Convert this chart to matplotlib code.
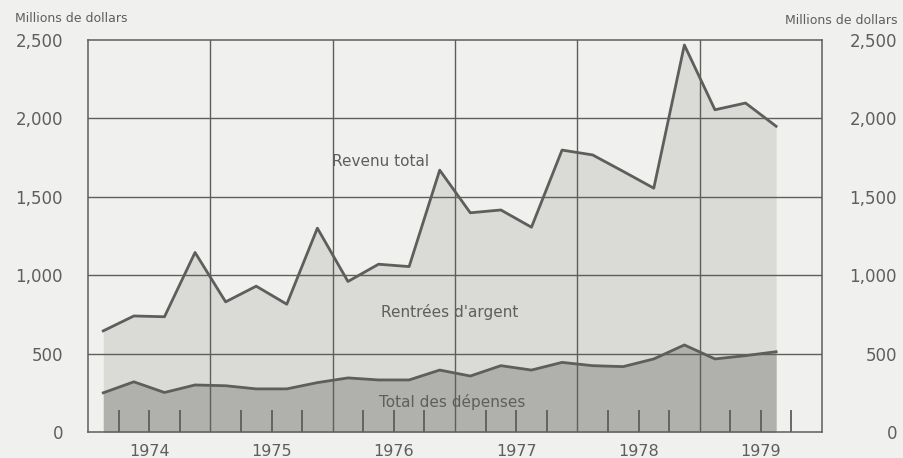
import matplotlib.pyplot as plt
from matplotlib.ticker import FixedLocator

# quarterly figures, 1974 Q1 .. 1979 Q3 (millions of dollars)
years = [1974, 1975, 1976, 1977, 1978, 1979]
revenu_total = [645, 740, 735, 1145, 830, 930, 815, 1300, 960, 1070, 1055, 1670,
                1398, 1416, 1306, 1798, 1767, 1662, 1555, 2468, 2055, 2098, 1950]
total_depenses = [250, 320, 252, 300, 295, 275, 275, 315, 345, 332, 332, 395,
                  357, 423, 395, 444, 423, 417, 466, 555, 466, 487, 512]
y_ticks = [0, 500, 1000, 1500, 2000, 2500]
y_labels = ['0', '500', '1,000', '1,500', '2,000', '2,500']

bg = '#f0f0ee'
light = '#dadad7'
dark = '#b0b0ad'
ink = '#5c5f5c'
txt = '#5e5e5e'

x = [years[0] + i / 4 + 0.125 for i in range(len(revenu_total))]

fig = plt.figure(figsize=(9.04, 4.58), dpi=100, facecolor=bg)
ax = fig.add_axes([88 / 904, 26 / 458, 734 / 904, 392 / 458])
ax.set_facecolor(bg)
ax.set_axisbelow(False)

ax.fill_between(x, 0, revenu_total, color=light, lw=0, zorder=0.5)
ax.fill_between(x, 0, total_depenses, color=dark, lw=0, zorder=0.6)

# grid
for yv in y_ticks[1:-1]:
    ax.axhline(yv, color=ink, lw=1, zorder=3)
for yr in years[1:]:
    ax.axvline(yr, color=ink, lw=1, zorder=3)

ax.plot(x, revenu_total, color=ink, lw=2, zorder=4)
ax.plot(x, total_depenses, color=ink, lw=2, zorder=4)

ax.set_xlim(years[0], years[-1] + 1)
ax.set_ylim(0, 2500)
for s in ax.spines.values():
    s.set_color(ink)
    s.set_linewidth(1.1)

# year labels centred, quarter ticks inside
ax.xaxis.remove_overlapping_locs = False
ax.xaxis.set_major_locator(FixedLocator([yr + 0.5 for yr in years]))
ax.set_xticklabels([str(yr) for yr in years])
ax.xaxis.set_minor_locator(FixedLocator([yr + q / 4 for yr in years for q in (1, 2, 3)]))
ax.tick_params(axis='x', which='major', length=0, pad=9, labelsize=11.5, labelcolor=txt)
ax.tick_params(axis='x', which='minor', direction='in', length=16, width=1.3, color=ink)

ax.set_yticks(y_ticks)
ax.set_yticklabels(y_labels)
ax.tick_params(axis='y', length=0, pad=18, labelsize=12, labelcolor=txt)

ax2 = ax.twinx()
ax2.set_ylim(0, 2500)
ax2.set_yticks(y_ticks)
ax2.set_yticklabels(y_labels)
ax2.tick_params(axis='y', length=0, pad=54, labelsize=12, labelcolor=txt)
for lab in ax2.get_yticklabels():
    lab.set_horizontalalignment('right')
for s in ax2.spines.values():
    s.set_visible(False)

ax.text(1976.39, 1722, 'Revenu total', ha='center', va='center', fontsize=11, color=txt, zorder=5)
ax.text(1976.96, 765, "Rentrées d'argent", ha='center', va='center', fontsize=11, color=txt, zorder=5)
ax.text(1976.98, 191, 'Total des dépenses', ha='center', va='center', fontsize=11, color=txt, zorder=5)

fig.text(15 / 904, 1 - 19 / 458, 'Millions de dollars', ha='left', va='center', fontsize=9, color=txt)
fig.text(898 / 904, 1 - 20 / 458, 'Millions de dollars', ha='right', va='center', fontsize=9, color=txt)

fig.savefig('out.png', dpi=100, facecolor=bg)
